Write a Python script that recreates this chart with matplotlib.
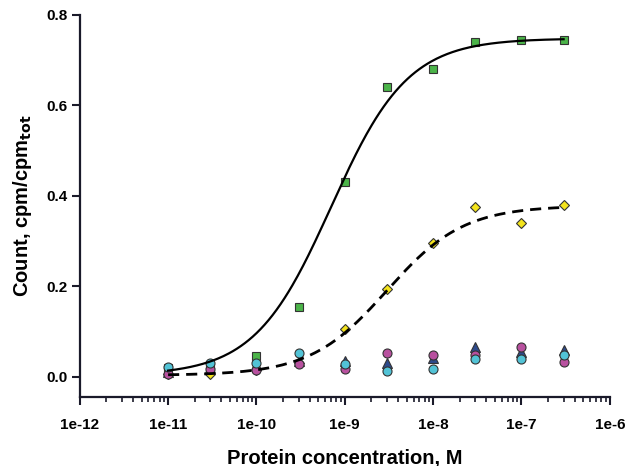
import numpy as np
import matplotlib
matplotlib.use("Agg")
import matplotlib.pyplot as plt
from matplotlib.ticker import FixedLocator, LogLocator, FuncFormatter

plt.rcParams['font.family'] = ['Liberation Sans', 'DejaVu Sans']
plt.rcParams['font.weight'] = 'bold'

# protein concentrations, M
conc = [1e-11, 3e-11, 1e-10, 3e-10, 1e-9, 3e-9, 1e-8, 3e-8, 1e-7, 3e-7]

# measured counts, cpm/cpm_tot
green_sq = [0.02, 0.02, 0.045, 0.155, 0.43, 0.64, 0.68, 0.74, 0.745, 0.745]
yellow_dia = [0.005, 0.007, 0.015, 0.03, 0.105, 0.195, 0.295, 0.375, 0.34, 0.38]
navy_tri = [0.01, 0.02, 0.025, 0.035, 0.035, 0.031, 0.042, 0.066, 0.055, 0.058]
magenta_circ = [0.007, 0.018, 0.015, 0.028, 0.017, 0.053, 0.049, 0.048, 0.065, 0.033]
cyan_circ = [0.022, 0.031, 0.03, 0.053, 0.028, 0.012, 0.018, 0.04, 0.04, 0.048]

# fitted binding curves (bottom, top, EC50, hill slope)
fit_solid = (0.003, 0.748, 7e-10, 1.0)
fit_dashed = (0.003, 0.378, 3e-9, 1.0)


def hill(x, bottom, top, ec50, n):
    return bottom + (top - bottom) * (x / ec50) ** n / (1 + (x / ec50) ** n)


fig = plt.figure(figsize=(6.28, 4.66), dpi=100)
ax = fig.add_axes([0.127, 0.148, 0.844, 0.82])

xx = np.logspace(-11, np.log10(3e-7), 300)
ax.plot(xx, hill(xx, *fit_solid), color='black', lw=1.6, zorder=10)
ax.plot(xx, hill(xx, *fit_dashed), color='black', lw=2.0, ls=(0, (4, 2.5)), zorder=10)

ms = 6.5
edge = '#333333'
ax.plot(conc, green_sq, 's', color='#4bb449', mec=edge, mew=0.8, ms=ms - 0.5, zorder=3)
ax.plot(conc, yellow_dia, 'D', color='#f4e41c', mec=edge, mew=0.8, ms=ms - 1, zorder=3)
ax.plot(conc, navy_tri, '^', color='#2d4a8c', mec=edge, mew=0.8, ms=ms, zorder=4)
ax.plot(conc, magenta_circ, 'o', color='#b8519f', mec=edge, mew=0.8, ms=ms, zorder=5)
ax.plot(conc, cyan_circ, 'o', color='#52c3d6', mec=edge, mew=0.8, ms=ms, zorder=6)

ax.set_xscale('log')
ax.set_xlim(1e-12, 1e-6)
ax.set_ylim(-0.045, 0.8)
ax.set_yticks([0.0, 0.2, 0.4, 0.6, 0.8])
ax.yaxis.set_major_formatter(FuncFormatter(lambda v, p: '%.1f' % v))
ax.xaxis.set_major_locator(FixedLocator([1e-12, 1e-11, 1e-10, 1e-9, 1e-8, 1e-7, 1e-6]))
ax.xaxis.set_minor_locator(LogLocator(base=10, subs=np.arange(2, 10), numticks=20))
ax.xaxis.set_major_formatter(FuncFormatter(lambda v, p: '1e%d' % round(np.log10(v))))

for s in ['top', 'right']:
    ax.spines[s].set_visible(False)
for s in ['left', 'bottom']:
    ax.spines[s].set_linewidth(1.6)
    ax.spines[s].set_color('#1a1a2a')

ax.tick_params(axis='both', which='major', direction='out', length=6, width=1.5,
               labelsize=11, color='#1a1a2a')
ax.tick_params(axis='x', which='major', pad=9)
ax.tick_params(axis='x', which='minor', direction='out', length=3.5, width=1.2, color='#1a1a2a')
ax.tick_params(axis='y', which='major', pad=3)

ax.set_xlabel('Protein concentration, M', fontsize=14.5, fontweight='bold', labelpad=12)
ax.set_ylabel(r'Count, cpm/cpm$_{\mathbf{tot}}$', fontsize=14.5, fontweight='bold', labelpad=9)

fig.savefig('out.png', dpi=100)
